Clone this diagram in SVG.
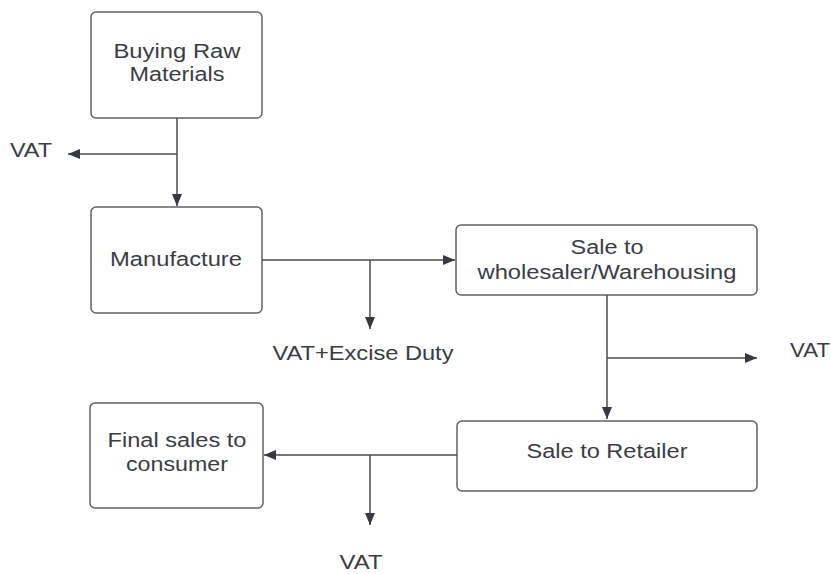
<svg xmlns="http://www.w3.org/2000/svg" width="831" height="574" viewBox="0 0 831 574">
<defs>
<marker id="arr" viewBox="0 0 12 10" refX="12" refY="5" markerWidth="12" markerHeight="10" markerUnits="userSpaceOnUse" orient="auto">
<path d="M0,0 L12,5 L0,10 Z" fill="#363943"/>
</marker>
</defs>
<style>
.box{fill:#ffffff;stroke:#5f6166;stroke-width:1.5}
.t{font-family:"Liberation Sans",Arial,sans-serif;font-size:19.5px;fill:#3a3d45;text-anchor:middle}
.ca{fill:none;stroke:#4a4d55;stroke-width:1.5;marker-end:url(#arr)}
</style>
<rect width="831" height="574" fill="#ffffff"/>
<g id="n1">
<rect class="box" x="91" y="12" width="171" height="106" rx="5"/>
<text class="t" x="177" y="58" textLength="127" lengthAdjust="spacingAndGlyphs">Buying Raw</text>
<text class="t" x="177" y="81" textLength="95" lengthAdjust="spacingAndGlyphs">Materials</text>
</g>
<g id="n2">
<rect class="box" x="91" y="207" width="171" height="106" rx="5"/>
<text class="t" x="176" y="266" textLength="132" lengthAdjust="spacingAndGlyphs">Manufacture</text>
</g>
<g id="n3">
<rect class="box" x="456" y="225" width="301" height="70" rx="5"/>
<text class="t" x="607" y="254" textLength="73" lengthAdjust="spacingAndGlyphs">Sale to</text>
<text class="t" x="607" y="279" textLength="259" lengthAdjust="spacingAndGlyphs">wholesaler/Warehousing</text>
</g>
<g id="n4">
<rect class="box" x="457" y="421" width="300" height="70" rx="5"/>
<text class="t" x="607" y="458" textLength="161" lengthAdjust="spacingAndGlyphs">Sale to Retailer</text>
</g>
<g id="n5">
<rect class="box" x="90" y="403" width="173" height="105" rx="5"/>
<text class="t" x="177" y="447" textLength="139" lengthAdjust="spacingAndGlyphs">Final sales to</text>
<text class="t" x="177" y="471" textLength="102" lengthAdjust="spacingAndGlyphs">consumer</text>
</g>
<g id="labels">
<text class="t" x="31" y="157" textLength="42" lengthAdjust="spacingAndGlyphs">VAT</text>
<text class="t" x="363" y="360" textLength="181" lengthAdjust="spacingAndGlyphs">VAT+Excise Duty</text>
<text class="t" x="810" y="357" textLength="40" lengthAdjust="spacingAndGlyphs">VAT</text>
<text class="t" x="361" y="569" textLength="43" lengthAdjust="spacingAndGlyphs">VAT</text>
</g>
<g id="connectors">
<path class="ca" d="M177,118 V206"/>
<path class="ca" d="M177,154 H68"/>
<path class="ca" d="M262,260 H455"/>
<path class="ca" d="M370,260 V329"/>
<path class="ca" d="M607,295 V419"/>
<path class="ca" d="M607,358 H757"/>
<path class="ca" d="M457,455 H264"/>
<path class="ca" d="M370,455 V525"/>
</g>
</svg>
